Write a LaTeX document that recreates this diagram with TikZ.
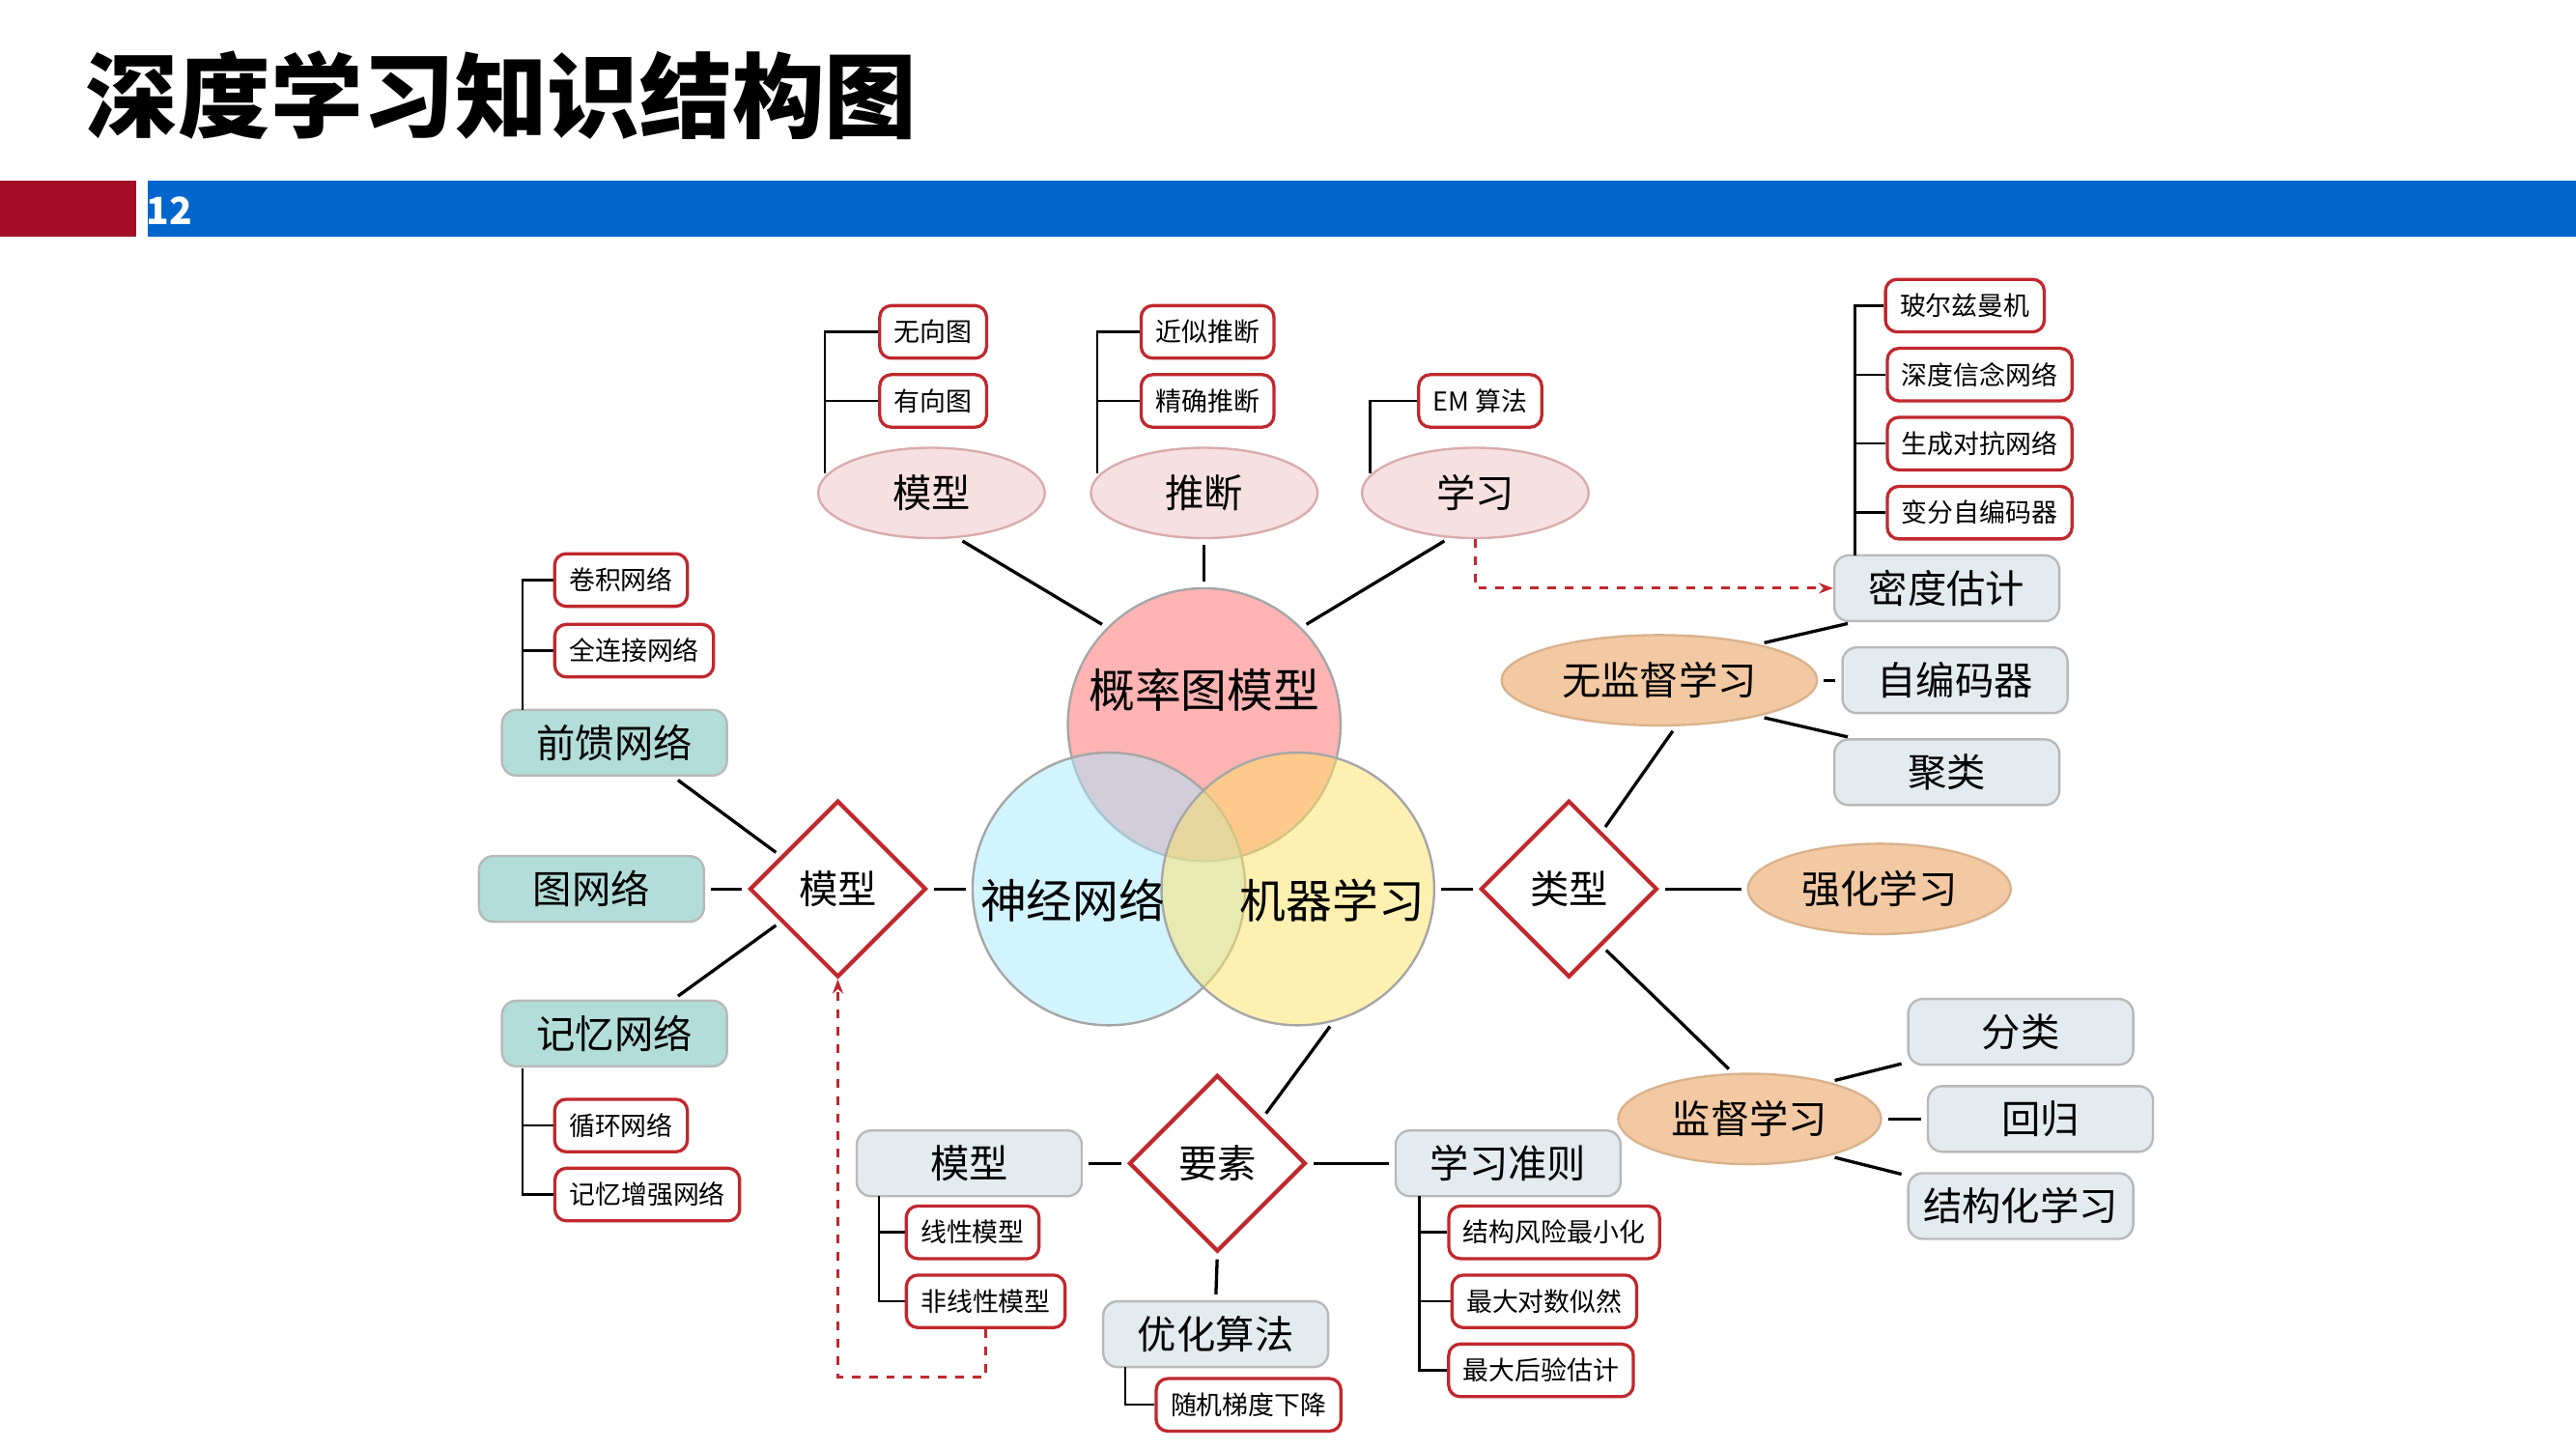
\documentclass[tikz,border=0pt]{standalone}
\usepackage{fontspec}
\setmainfont{Noto Sans CJK SC}
\usetikzlibrary{shapes.geometric, arrows.meta}
\definecolor{dred}{HTML}{C0282D}
\definecolor{bblue}{HTML}{0066CC}
\definecolor{bred}{HTML}{A50F25}
\definecolor{gfill}{HTML}{E4EBEF}
\definecolor{tfill}{HTML}{B3DDD8}
\definecolor{pfill}{HTML}{F6E0E2}
\definecolor{ofill}{HTML}{F3C9A3}
\tikzset{
  sbox/.style={draw=dred, line width=1.1pt, rounded corners=4pt, fill=white, font=\fontsize{9}{10}\selectfont, minimum height=0.64cm, inner xsep=5pt},
  gbox/.style={draw=gray!55, line width=0.8pt, rounded corners=5pt, fill=gfill, font=\fontsize{13.5}{15}\selectfont, minimum width=2.74cm, minimum height=0.8cm},
  tbox/.style={gbox, fill=tfill},
  pell/.style={ellipse, draw=pink!70!gray, line width=0.8pt, fill=pfill, font=\fontsize{13.5}{15}\selectfont, minimum width=2.76cm, minimum height=1.1cm},
  oell/.style={pell, draw=brown!60, fill=ofill, minimum width=3.2cm},
  dia/.style={diamond, draw=dred, line width=1.4pt, fill=white, font=\fontsize{13.5}{15}\selectfont, minimum width=2.15cm, minimum height=2.15cm, inner sep=0pt},
  venn/.style={circle, draw=gray!70, line width=0.8pt, minimum size=3.32cm, fill opacity=0.5},
  link/.style={line width=1.1pt, shorten <=2pt, shorten >=2pt},
  brk/.style={line width=0.8pt},
  dlink/.style={dred, line width=1pt, dashed, -{Stealth[length=5pt]}}
}
\begin{document}
\begin{tikzpicture}[x=0.02cm, y=-0.02cm]
  \useasboundingbox (0,0) rectangle (1568,882);
  % title and bars
  \node[anchor=west, font=\fontsize{32}{36}\selectfont\bfseries] (title) at (46,58) {深度学习知识结构图};
  \fill[bred] (0,110) rectangle (83,144);
  \fill[bblue] (90,110) rectangle (1568,144);
  \node[anchor=west, text=white, font=\fontsize{13}{14}\selectfont\bfseries, inner sep=0pt] (page) at (89,128) {12};

  % venn circles
  \node[venn, fill=red!45!pink] (pgm) at (733,441) {};
  \node[venn, fill=blue!25!cyan!35] (nn) at (675,541) {};
  \node[venn, fill=yellow!70!orange!60] (ml) at (790,541) {};
  \node[font=\fontsize{16}{18}\selectfont] (pgmt) at (733,420) {概率图模型};
  \node[font=\fontsize{16}{18}\selectfont] (nnt) at (653,548) {神经网络};
  \node[font=\fontsize{16}{18}\selectfont] (mlt) at (811,548) {机器学习};

  % top part
  \node[pell] (mx) at (567,300) {模型};
  \node[pell] (tl) at (733,300) {推断};
  \node[pell] (xx) at (898,300) {学习};
  \node[sbox] (wxt) at (568,202) {无向图};
  \node[sbox] (yxt) at (568,244) {有向图};
  \node[sbox] (jstd) at (735,202) {近似推断};
  \node[sbox] (jqtd) at (735,244) {精确推断};
  \node[sbox] (em) at (901,244) {EM 算法};
  \coordinate (mxb) at (502,288);
  \coordinate (tlb) at (668,288);
  \coordinate (xxb) at (834,288);
  \draw[brk] (wxt.west) -| (mxb);
  \draw[brk] (yxt.west) -- (yxt.west -| mxb);
  \draw[brk] (jstd.west) -| (tlb);
  \draw[brk] (jqtd.west) -- (jqtd.west -| tlb);
  \draw[brk] (em.west) -| (xxb);
  \draw[link] (mx.-60) -- (pgm.135);
  \draw[link] (tl.south) -- (pgm.north);
  \draw[link] (xx.-120) -- (pgm.45);

  % unsupervised
  \node[gbox] (mdgj) at (1185,358) {密度估计};
  \node[sbox] (bezm) at (1196,186) {玻尔兹曼机};
  \node[sbox] (sdxn) at (1205,228) {深度信念网络};
  \node[sbox] (scdk) at (1205,270) {生成对抗网络};
  \node[sbox] (bfzb) at (1205,312) {变分自编码器};
  \coordinate (mdb) at (1129,338);
  \draw[brk] (bezm.west) -| (mdb);
  \draw[brk] (sdxn.west) -- (sdxn.west -| mdb);
  \draw[brk] (scdk.west) -- (scdk.west -| mdb);
  \draw[brk] (bfzb.west) -- (bfzb.west -| mdb);
  \draw[dlink] (xx.south) |- (mdgj.west);
  \node[oell, minimum width=3.84cm] (wjd) at (1010,414) {无监督学习};
  \node[gbox] (zbm) at (1190,414) {自编码器};
  \node[gbox] (jl) at (1185,470) {聚类};
  \draw[link] (wjd.20) -- (mdgj.-160);
  \draw[link] (wjd.east) -- (zbm.west);
  \draw[link] (wjd.-20) -- (jl.160);

  % types
  \node[dia] (lx) at (955,541) {类型};
  \node[oell] (qhxx) at (1144,541) {强化学习};
  \node[oell] (jdxx) at (1065,681) {监督学习};
  \node[gbox] (fl) at (1230,628) {分类};
  \node[gbox] (hg) at (1242,681) {回归};
  \node[gbox] (jgh) at (1230,734) {结构化学习};
  \draw[link] (ml.east) -- (lx.west);
  \draw[link] (lx.60) -- (wjd.-70);
  \draw[link] (lx.east) -- (qhxx.west);
  \draw[link] (lx.-60) -- (jdxx.110);
  \draw[link] (jdxx.25) -- (fl.-165);
  \draw[link] (jdxx.east) -- (hg.west);
  \draw[link] (jdxx.-25) -- (jgh.165);

  % left part
  \node[dia] (mxd) at (510,541) {模型};
  \node[tbox] (qkwl) at (374,452) {前馈网络};
  \node[tbox] (twl) at (360,541) {图网络};
  \node[tbox] (jywl) at (374,629) {记忆网络};
  \node[sbox] (jjwl) at (378,353) {卷积网络};
  \node[sbox] (qljwl) at (386,396) {全连接网络};
  \node[sbox] (xhwl) at (378,685) {循环网络};
  \node[sbox] (jyzq) at (394,727) {记忆增强网络};
  \coordinate (qkb) at (318,432);
  \coordinate (jyb) at (318,650);
  \draw[brk] (jjwl.west) -| (qkb);
  \draw[brk] (qljwl.west) -- (qljwl.west -| qkb);
  \draw[brk] (jyzq.west) -| (jyb);
  \draw[brk] (xhwl.west) -- (xhwl.west -| jyb);
  \draw[link] (mxd.west) -- (twl.east);
  \draw[link] (mxd.150) -- (qkwl.-30);
  \draw[link] (mxd.-150) -- (jywl.30);
  \draw[link] (mxd.east) -- (nn.west);

  % elements
  \node[dia] (ys) at (741,708) {要素};
  \node[gbox] (mxb2) at (590,708) {模型};
  \node[gbox] (xxzz) at (918,708) {学习准则};
  \node[gbox] (yhsf) at (740,812) {优化算法};
  \node[sbox] (xxmx) at (592,750) {线性模型};
  \node[sbox] (fxxmx) at (600,792) {非线性模型};
  \node[sbox] (jgfx) at (946,750) {结构风险最小化};
  \node[sbox] (zdds) at (940,792) {最大对数似然};
  \node[sbox] (zdhy) at (938,834) {最大后验估计};
  \node[sbox] (sjtd) at (760,855) {随机梯度下降};
  \coordinate (mxbb) at (535,728);
  \coordinate (xzb) at (864,728);
  \coordinate (yhb) at (685,832);
  \draw[brk] (fxxmx.west) -| (mxbb);
  \draw[brk] (xxmx.west) -- (xxmx.west -| mxbb);
  \draw[brk] (zdhy.west) -| (xzb);
  \draw[brk] (jgfx.west) -- (jgfx.west -| xzb);
  \draw[brk] (zdds.west) -- (zdds.west -| xzb);
  \draw[brk] (sjtd.west) -| (yhb);
  \draw[link] (ml.-75) -- (ys.45);
  \draw[link] (ys.west) -- (mxb2.east);
  \draw[link] (ys.east) -- (xxzz.west);
  \draw[link] (ys.south) -- (yhsf.north);
  \coordinate (dsh) at (510,838);
  \draw[dlink] (fxxmx.south) |- (dsh) -- (mxd.south);
\end{tikzpicture}
\end{document}
